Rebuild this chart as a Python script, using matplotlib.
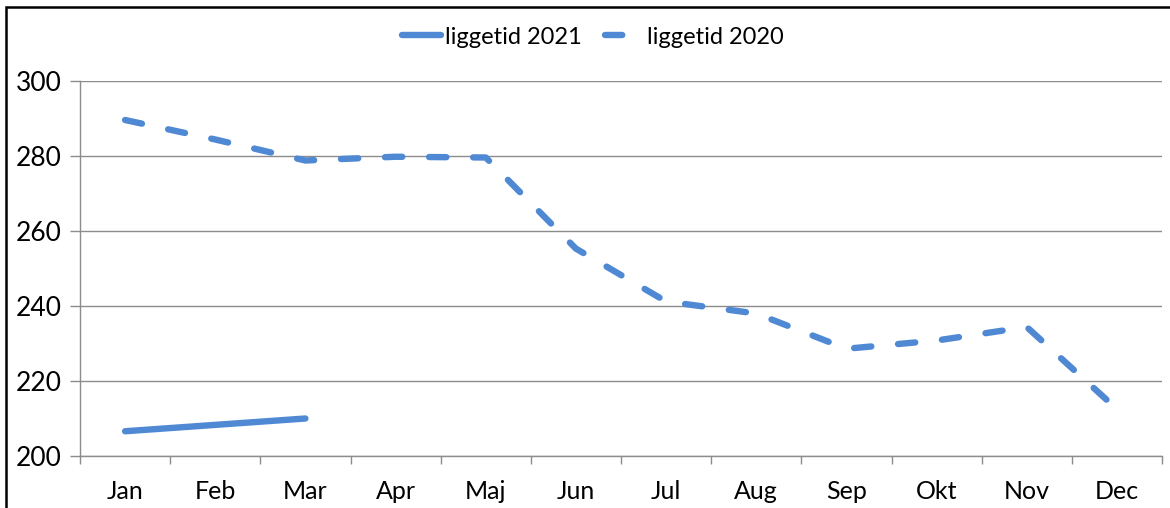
import matplotlib.pyplot as plt
from matplotlib.patches import Rectangle

months = ["Jan", "Feb", "Mar", "Apr", "Maj", "Jun", "Jul", "Aug", "Sep", "Okt", "Nov", "Dec"]
liggetid_2021 = [206.6, 208.3, 210.0]
liggetid_2020 = [289.6, 284.4, 278.8, 279.8, 279.6, 255.3, 241.2, 238.0, 228.6, 230.8, 234.4, 212.5]

blue = "#4f88d3"
grey = "#8c8c8c"

plt.rcParams["font.family"] = ["Lato", "DejaVu Sans"]

fig = plt.figure(figsize=(11.7, 5.08), dpi=100)
ax = fig.add_axes([80 / 1170, 52 / 508, 1082 / 1170, 375 / 508])

x20 = list(range(len(liggetid_2020)))
x21 = list(range(len(liggetid_2021)))
ax.plot(x21, liggetid_2021, color=blue, lw=4.6, solid_capstyle="round", label="liggetid 2021")
ax.plot(x20, liggetid_2020, color=blue, lw=4.6, dashes=(2.7, 4.2), dash_capstyle="round",
        label="liggetid 2020")

ax.set_xlim(-0.5, len(months) - 0.5)
ax.set_ylim(200, 300)
ax.set_yticks(range(200, 301, 20))
ax.set_xticks(range(len(months)))
ax.set_xticklabels(months)
ax.set_xticks([i - 0.5 for i in range(len(months) + 1)], minor=True)
ax.tick_params(axis="x", which="major", length=0, pad=17, labelsize=18)
ax.tick_params(axis="x", which="minor", length=6, color=grey, width=1)
ax.tick_params(axis="y", length=7, color=grey, width=1, labelsize=19, pad=6)
ax.grid(axis="y", color=grey, lw=1)
ax.set_axisbelow(True)
for s in ["top", "right"]:
    ax.spines[s].set_visible(False)
for s in ["left", "bottom"]:
    ax.spines[s].set_color(grey)
    ax.spines[s].set_linewidth(1)

leg = fig.legend(loc="center", bbox_to_anchor=(0.507, 1 - 37 / 508), ncol=2, frameon=False,
                 fontsize=17, handlelength=1.65, handletextpad=0.15, columnspacing=1.0)

fig.patches.append(Rectangle((6 / 1170, -0.05), 1.2, 1 - 7 / 508 + 0.05, transform=fig.transFigure,
                             fill=False, edgecolor="black", lw=1.8))

fig.savefig("out.png", dpi=100)
